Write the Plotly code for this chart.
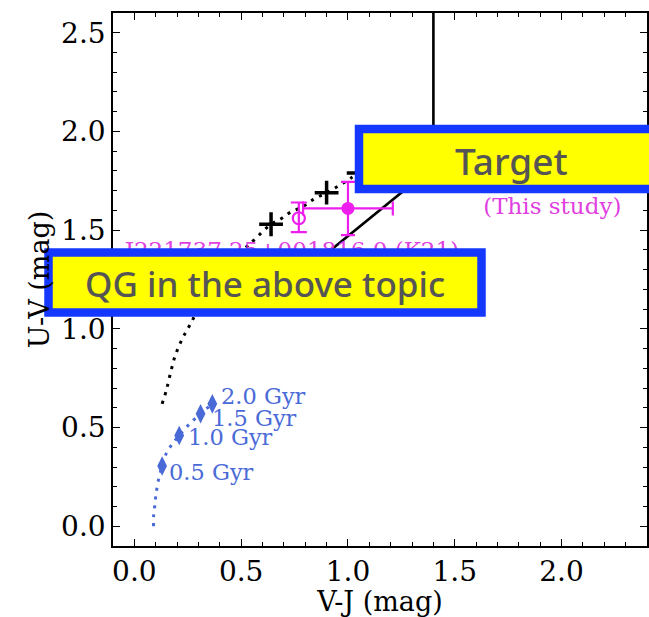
import plotly.graph_objects as go

# ---------------- data ----------------
# black dotted model track (V-J, U-V)
track_vj = [0.13, 0.15, 0.17, 0.19, 0.22, 0.26, 0.31, 0.37, 0.44, 0.52, 0.56, 0.64, 0.69, 0.73, 0.79, 0.83, 0.90, 0.98, 1.05]
track_uv = [0.62, 0.69, 0.78, 0.86, 0.94, 1.02, 1.12, 1.22, 1.32, 1.41, 1.45, 1.53, 1.56, 1.59, 1.62, 1.65, 1.69, 1.74, 1.79]
# black plus markers on the track
plus_vj = [0.64, 0.90, 1.05]
plus_uv = [1.53, 1.69, 1.79]

# blue dotted young-population track
young_vj = [0.09, 0.09, 0.095, 0.10, 0.11, 0.13, 0.15, 0.18, 0.21, 0.26, 0.31, 0.365]
young_uv = [0.00, 0.05, 0.10, 0.15, 0.22, 0.305, 0.37, 0.42, 0.46, 0.52, 0.57, 0.62]
# age diamonds
age_vj = [0.13, 0.21, 0.31, 0.365]
age_uv = [0.305, 0.46, 0.57, 0.62]
age_labels = ["0.5 Gyr", "1.0 Gyr", "1.5 Gyr", "2.0 Gyr"]

# UVJ quiescent selection boundary
uvj_vj = [-0.5, 0.807, 1.40, 1.40]
uvj_uv = [1.30, 1.30, 1.822, 3.0]

# K21 galaxy (open circle)
k21_vj = [0.77]
k21_uv = [1.56]
k21_uv_err_plus = [0.08]
k21_uv_err_minus = [0.07]
k21_label = "J221737.25+001816.0 (K21)"

# this study (filled circle)
tgt_vj = [1.00]
tgt_uv = [1.61]
tgt_vj_err = [0.21]
tgt_uv_err = [0.135]
tgt_label = "J221737.29+001823.4<br>(This study)"

x_ticks = [0.0, 0.5, 1.0, 1.5, 2.0]
y_ticks = [0.0, 0.5, 1.0, 1.5, 2.0, 2.5]

# ---------------- styles ----------------
SERIF = "DejaVu Serif"
MAG = "#ee1fee"
MAG_TXT = "#e040e0"
BLUE = "#4a6ad8"
BOXBLUE = "#1438ff"

fig = go.Figure()

fig.add_trace(go.Scatter(x=uvj_vj, y=uvj_uv, mode="lines",
                         line=dict(color="black", width=2.6), showlegend=False))

fig.add_trace(go.Scatter(x=track_vj, y=track_uv, mode="lines",
                         line=dict(color="black", width=3, dash="3px,6px", shape="spline"),
                         showlegend=False))
fig.add_trace(go.Scatter(x=plus_vj, y=plus_uv, mode="markers",
                         marker=dict(symbol="cross-thin", size=17,
                                     line=dict(color="black", width=3.5)),
                         showlegend=False))

fig.add_trace(go.Scatter(x=young_vj, y=young_uv, mode="lines",
                         line=dict(color=BLUE, width=3, dash="3px,6px", shape="spline"),
                         showlegend=False))
fig.add_trace(go.Scatter(x=age_vj, y=age_uv, mode="markers",
                         marker=dict(symbol="diamond-tall", size=14, color=BLUE),
                         showlegend=False))

label_shift_x = [5, 7, 9, 7]
label_shift_y = [-6, -2, -4, 8]
for xv, yv, t, dx, dy in zip(age_vj, age_uv, age_labels, label_shift_x, label_shift_y):
    fig.add_annotation(x=xv, y=yv, text=t, showarrow=False, xanchor="left", yanchor="middle",
                       xshift=dx, yshift=dy, font=dict(family=SERIF, size=22.5, color=BLUE))

# K21 point
fig.add_trace(go.Scatter(x=k21_vj, y=k21_uv, mode="markers",
                         marker=dict(symbol="circle-open", size=12, color=MAG,
                                     line=dict(color=MAG, width=2.2)),
                         error_y=dict(type="data", symmetric=False, array=k21_uv_err_plus,
                                      arrayminus=k21_uv_err_minus, color=MAG, thickness=2.2, width=8),
                         showlegend=False))
# this study
fig.add_trace(go.Scatter(x=tgt_vj, y=tgt_uv, mode="markers",
                         marker=dict(symbol="circle", size=13, color=MAG),
                         error_x=dict(type="data", array=tgt_vj_err, color=MAG, thickness=2.2, width=7),
                         error_y=dict(type="data", array=tgt_uv_err, color=MAG, thickness=2.2, width=7),
                         showlegend=False))

# magenta labels as text traces (so the overlay boxes can cover them)
fig.add_trace(go.Scatter(x=[-0.045], y=[1.39], mode="text", text=[k21_label],
                         textposition="middle right",
                         textfont=dict(family=SERIF, size=23, color=MAG_TXT), showlegend=False))
fig.add_trace(go.Scatter(x=[2.28], y=[1.685], mode="text", text=[tgt_label],
                         textposition="middle left",
                         textfont=dict(family=SERIF, size=23, color=MAG_TXT), showlegend=False))

# ---------------- overlay boxes ----------------
L, R, T, B = 113, 647, 13, 546
W, H = R - L, B - T
def px(x):
    return (x - L) / W
def py(y):
    return (B - y) / H

boxes = [
    (48.5, 481.5, 252.5, 312.5),
    (359, 670, 129, 189),
]
for x0, x1, y0, y1 in boxes:
    fig.add_shape(type="rect", xref="paper", yref="paper",
                  x0=px(x0), x1=px(x1), y0=py(y1), y1=py(y0),
                  fillcolor="#ffff00", line=dict(color=BOXBLUE, width=8.5), layer="above")
fig.add_annotation(xref="paper", yref="paper", x=px(265), y=py(283), text="QG in the above topic",
                   showarrow=False, xanchor="center", yanchor="middle",
                   font=dict(family="Noto Sans", size=35, color="#555555", weight=500))
fig.add_annotation(xref="paper", yref="paper", x=px(511), y=py(160), text="Target",
                   showarrow=False, xanchor="center", yanchor="middle",
                   font=dict(family="Noto Sans", size=37, color="#555555", weight=500))

axis_common = dict(showline=True, linecolor="black", linewidth=1.6, mirror="allticks",
                   ticks="inside", ticklen=7, tickwidth=1.4, tickcolor="black",
                   showgrid=False, zeroline=False, automargin=False,
                   tickfont=dict(family=SERIF, size=28, color="black"),
                   minor=dict(ticks="inside", ticklen=4, tickwidth=1.2, tickcolor="black", dtick=0.1))

fig.update_xaxes(range=[-0.1, 2.4], tickvals=x_ticks, ticktext=[f"{v:.1f}" for v in x_ticks],
                 title=dict(text="V-J (mag)", font=dict(family=SERIF, size=27, color="black"), standoff=2),
                 **axis_common)
fig.update_yaxes(range=[-0.1, 2.6], tickvals=y_ticks, ticktext=[f"{v:.1f}" for v in y_ticks],
                 title=dict(text="U-V (mag)", font=dict(family=SERIF, size=27, color="black"), standoff=4),
                 **axis_common)

fig.update_layout(width=649, height=617, margin=dict(l=L, r=649 - R, t=T, b=617 - B),
                  paper_bgcolor="white", plot_bgcolor="white", showlegend=False)

fig.write_html("out.html", config={"displayModeBar": False},
               post_script="document.body.style.margin='0px';document.body.style.overflow='hidden';")
